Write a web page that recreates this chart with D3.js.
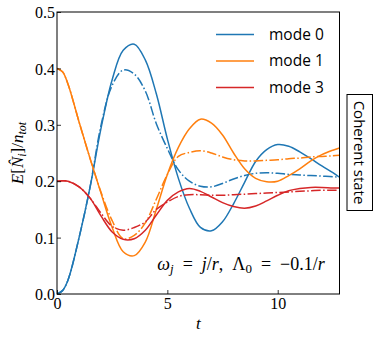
<!DOCTYPE html>
<html><head><meta charset="utf-8">
<script src="https://cdn.jsdelivr.net/npm/d3@7"></script>
<style>
html,body{margin:0;padding:0;background:#fff;}
svg{display:block;}
.serif{font-family:'Liberation Serif','Times New Roman',serif;}
.sans{font-family:'Open Sans',sans-serif;}
</style></head>
<body>
<svg id="chart" width="374" height="339"></svg>
<script>
const times = [0,0.25,0.5,1,1.5,2,2.5,3,3.5,4,4.5,5,5.5,6,6.5,7,7.5,8,8.5,9,9.5,10,10.5,11,11.5,12,12.5,12.8];
const mode0Solid = [0,0.006,0.025,0.1,0.19,0.295,0.38,0.432,0.443,0.415,0.355,0.275,0.205,0.152,0.118,0.112,0.128,0.16,0.198,0.235,0.256,0.265,0.262,0.252,0.24,0.227,0.215,0.207];
const mode0Dash  = [0,0.006,0.025,0.1,0.19,0.3,0.37,0.397,0.39,0.36,0.302,0.258,0.22,0.2,0.191,0.19,0.196,0.204,0.21,0.214,0.215,0.214,0.212,0.211,0.21,0.209,0.208,0.207];
const mode1Solid = [0.4,0.394,0.372,0.305,0.24,0.178,0.118,0.075,0.068,0.092,0.15,0.212,0.26,0.293,0.31,0.303,0.282,0.25,0.222,0.205,0.199,0.2,0.21,0.222,0.236,0.247,0.255,0.259];
const mode1Dash  = [0.4,0.394,0.372,0.305,0.24,0.18,0.13,0.098,0.104,0.126,0.168,0.212,0.244,0.251,0.254,0.25,0.243,0.238,0.236,0.236,0.237,0.238,0.24,0.241,0.243,0.244,0.245,0.246];
const mode3Solid = [0.2,0.201,0.2,0.19,0.17,0.138,0.11,0.097,0.098,0.113,0.14,0.166,0.181,0.187,0.182,0.172,0.162,0.155,0.152,0.156,0.165,0.175,0.183,0.187,0.189,0.189,0.188,0.188];
const mode3Dash  = [0.2,0.201,0.2,0.19,0.17,0.143,0.12,0.113,0.118,0.128,0.15,0.163,0.173,0.176,0.176,0.175,0.175,0.176,0.177,0.178,0.179,0.18,0.181,0.182,0.183,0.184,0.184,0.184];
const legendLabels = ["mode 0","mode 1","mode 3"];
const xTicks = [0,5,10];
const yTicks = [0.0,0.1,0.2,0.3,0.4,0.5];

const colors = ["#1f77b4","#ff7f0e","#d62728"];
const DD = "9.6,2.4,1.5,2.4";
const series = [
  {v:mode0Solid,c:0,dash:null},{v:mode0Dash,c:0,dash:DD},
  {v:mode1Solid,c:1,dash:null},{v:mode1Dash,c:1,dash:DD},
  {v:mode3Solid,c:2,dash:null},{v:mode3Dash,c:2,dash:DD}
];

const L=57, R=339.5, T=12, B=294;
const svg = d3.select("#chart");
const x = d3.scaleLinear().domain([0,12.8]).range([L,R]);
const y = d3.scaleLinear().domain([0,0.5]).range([B,T]);

svg.append("clipPath").attr("id","clip").append("rect")
  .attr("x",L).attr("y",T).attr("width",R-L).attr("height",B-T);

const line = d3.line().x((d,i)=>x(times[i])).y(d=>y(d)).curve(d3.curveCatmullRom.alpha(0.5));
const g = svg.append("g").attr("clip-path","url(#clip)");
series.forEach(s=>{
  g.append("path").attr("d",line(s.v)).attr("fill","none")
   .attr("stroke",colors[s.c]).attr("stroke-width",1.5)
   .attr("stroke-dasharray",s.dash);
});

const xAxis = d3.axisBottom(x).tickValues(xTicks).tickSizeInner(-4).tickSizeOuter(0).tickFormat(d3.format("d"));
const xa = svg.append("g").attr("transform",`translate(0,${B})`).call(xAxis);
const yAxis = d3.axisLeft(y).tickValues(yTicks).tickSizeInner(-4).tickSizeOuter(0).tickFormat(d3.format(".1f"));
const ya = svg.append("g").attr("transform",`translate(${L},0)`).call(yAxis);
[xa,ya].forEach(a=>{
  a.attr("font-family",null).attr("font-size",null);
  a.select(".domain").remove();
  a.selectAll("text").attr("class","serif").style("font-size","16px").attr("fill","#000");
  a.selectAll("line").attr("stroke","#000").attr("stroke-width",0.8);
});
xa.selectAll("text").attr("y",4).attr("dy","0.71em");
ya.selectAll("text").attr("x",-2).attr("dy","0.35em");

svg.append("rect").attr("x",L).attr("y",T).attr("width",R-L).attr("height",B-T)
  .attr("fill","none").attr("stroke","#000").attr("stroke-width",1);

svg.append("text").attr("class","serif").attr("x",(L+R)/2).attr("y",329).attr("text-anchor","middle")
  .style("font-size","17px").attr("font-style","italic").text("t");

const yl = svg.append("text").attr("class","serif").attr("transform",`translate(23,${(T+B)/2}) rotate(-90)`)
  .attr("text-anchor","middle").style("font-size","17px");
yl.append("tspan").attr("font-style","italic").text("E");
yl.append("tspan").text("[");
yl.append("tspan").attr("font-style","italic").text("N\u0302");
yl.append("tspan").attr("font-style","italic").style("font-size","12px").attr("dy",3).text("i");
yl.append("tspan").attr("dy",-3).text("]/");
yl.append("tspan").attr("font-style","italic").text("n");
yl.append("tspan").attr("font-style","italic").style("font-size","12px").attr("dy",3).text("tot");

const an = svg.append("text").attr("class","serif").attr("x",241).attr("y",270).attr("text-anchor","middle")
  .style("font-size","18px");
an.append("tspan").attr("font-style","italic").text("ω");
an.append("tspan").attr("font-style","italic").style("font-size","13px").attr("dy",3).text("j");
an.append("tspan").attr("dy",-3).text("\u2002=\u2002");
an.append("tspan").attr("font-style","italic").text("j");
an.append("tspan").text("/");
an.append("tspan").attr("font-style","italic").text("r");
an.append("tspan").text(",\u2002Λ");
an.append("tspan").style("font-size","13px").attr("dy",3).text("0");
an.append("tspan").attr("dy",-3).text("\u2002=\u2002−0.1/");
an.append("tspan").attr("font-style","italic").text("r");

const legY = [34.5,61,87.5];
legendLabels.forEach((lab,i)=>{
  svg.append("line").attr("x1",216).attr("x2",254).attr("y1",legY[i]).attr("y2",legY[i])
    .attr("stroke",colors[i]).attr("stroke-width",1.5);
  svg.append("text").attr("class","sans").attr("x",269).attr("y",legY[i]).attr("dy","0.35em")
    .style("font-size","15.5px").attr("fill","#000").text(lab);
});

svg.append("rect").attr("x",347).attr("y",94.5).attr("width",25.5).attr("height",116)
  .attr("fill","#fff").attr("stroke","#000").attr("stroke-width",1);
svg.append("text").attr("class","sans").attr("transform","translate(359.5,152.5) rotate(90)")
  .attr("text-anchor","middle").attr("dy","0.35em")
  .style("font-size","15px").attr("fill","#000").text("Coherent state");
</script>
</body></html>
